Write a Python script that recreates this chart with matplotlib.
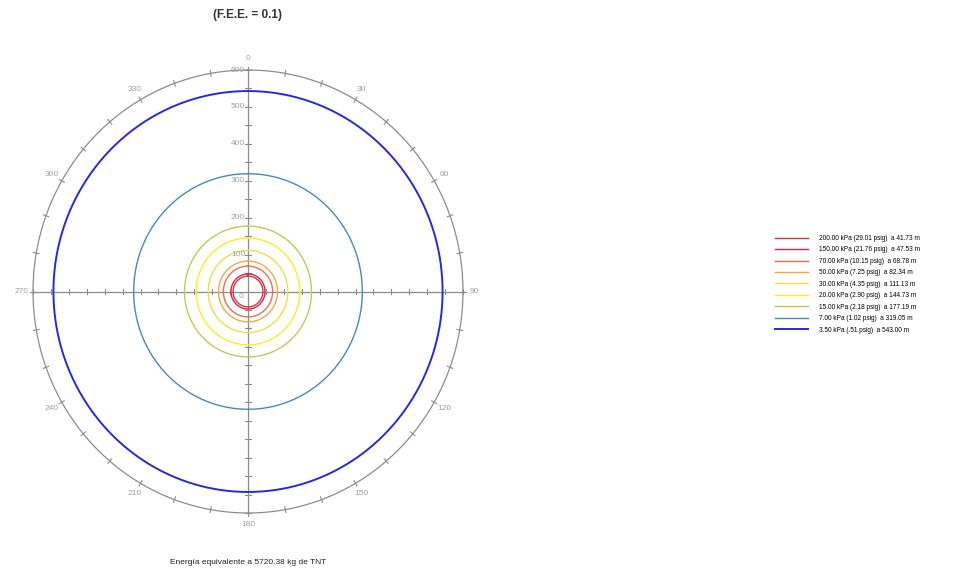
import numpy as np
import matplotlib
matplotlib.use("Agg")
import matplotlib.pyplot as plt
from matplotlib.lines import Line2D

plt.rcParams['font.family'] = ['Liberation Sans', 'DejaVu Sans']

# overpressure levels and the distance at which each is reached
PRESSURE_KPA = [200.00, 150.00, 70.00, 50.00, 30.00, 20.00, 15.00, 7.00, 3.50]
PRESSURE_PSIG = ["29.01", "21.76", "10.15", "7.25", "4.35", "2.90", "2.18", "1.02", ".51"]
DISTANCE_M = [41.73, 47.53, 68.78, 82.34, 111.13, 144.73, 177.19, 319.05, 543.00]
LINE_COLORS = ["#c83c3c", "#e0204c", "#e8704c", "#f0a848", "#f0e040",
               "#f8f020", "#b8d050", "#4a88b8", "#2828e0"]
LINE_WIDTHS = [1.0, 1.0, 1.0, 1.0, 1.0, 1.0, 1.0, 1.0, 1.4]

# polar grid settings
R_MAX = 600
RADIAL_LABELS = [100, 200, 300, 400, 500, 600]
ANGLE_LABELS = list(range(0, 360, 30))

GRAY = "#8c8c8c"
TEXT_GRAY = "#a0a0a0"

fig = plt.figure(figsize=(9.64, 5.75), dpi=100)
ax = fig.add_axes([33 / 964, 62 / 575, 430 / 964, 443 / 575])
ax.set_xlim(-R_MAX, R_MAX)
ax.set_ylim(-R_MAX, R_MAX)
ax.axis("off")

t = np.linspace(0, 2 * np.pi, 721)

# outer ring and cross axes
ax.plot(R_MAX * np.sin(t), R_MAX * np.cos(t), color=GRAY, lw=0.9, clip_on=False)
ax.plot([-R_MAX, R_MAX], [0, 0], color=GRAY, lw=0.9, clip_on=False)
ax.plot([0, 0], [-R_MAX, R_MAX], color=GRAY, lw=0.9, clip_on=False)

# small ticks along the axes every 50 m
for r in range(50, R_MAX + 1, 50):
    for s in (-1, 1):
        ax.plot([s * r, s * r], [-7, 7], color=GRAY, lw=0.8, clip_on=False)
        ax.plot([-7, 7], [s * r, s * r], color=GRAY, lw=0.8, clip_on=False)

# distance labels on the upper axis
for r in RADIAL_LABELS:
    ax.text(-8, r, str(r), ha="right", va="center", fontsize=6, color=TEXT_GRAY)
ax.text(-12, -14, "0", ha="right", va="center", fontsize=6, color=TEXT_GRAY)

# angular ticks every 10 degrees and labels every 30
for a in range(0, 360, 10):
    th = np.radians(a)
    r0, r1 = R_MAX - 8, R_MAX + 8
    ax.plot([r0 * np.sin(th), r1 * np.sin(th)], [r0 * np.cos(th), r1 * np.cos(th)],
            color=GRAY, lw=0.8, clip_on=False)
for a in ANGLE_LABELS:
    th = np.radians(a)
    rl = R_MAX + 32
    ax.text(rl * np.sin(th), rl * np.cos(th), str(a), ha="center", va="center",
            fontsize=6, color=TEXT_GRAY)

# overpressure circles
handles = []
labels = []
for kpa, psig, d, c, w in zip(PRESSURE_KPA, PRESSURE_PSIG, DISTANCE_M, LINE_COLORS, LINE_WIDTHS):
    ax.plot(d * np.sin(t), d * np.cos(t), color=c, lw=w, clip_on=False)
    handles.append(Line2D([], [], color=c, lw=w))
    labels.append(f"{kpa:.2f} kPa ({psig} psig)  a {d:.2f} m")

fig.legend(handles, labels, loc="upper left", bbox_to_anchor=(775 / 964, 1 - 235 / 575),
           frameon=False, fontsize=4.7, handlelength=5.0, handletextpad=1.7,
           labelspacing=0.68, borderpad=0, borderaxespad=0)

fig.text(248 / 964, 1 - 15 / 575, "(F.E.E. = 0.1)", ha="center", va="center",
         fontsize=8.5, fontweight="bold", color="#333333")
fig.text(248 / 964, 1 - 563 / 575, "Energía equivalente a 5720.38 kg de TNT",
         ha="center", va="center", fontsize=6.0, color="#222222")

fig.savefig("out.png", dpi=100, facecolor="white")
